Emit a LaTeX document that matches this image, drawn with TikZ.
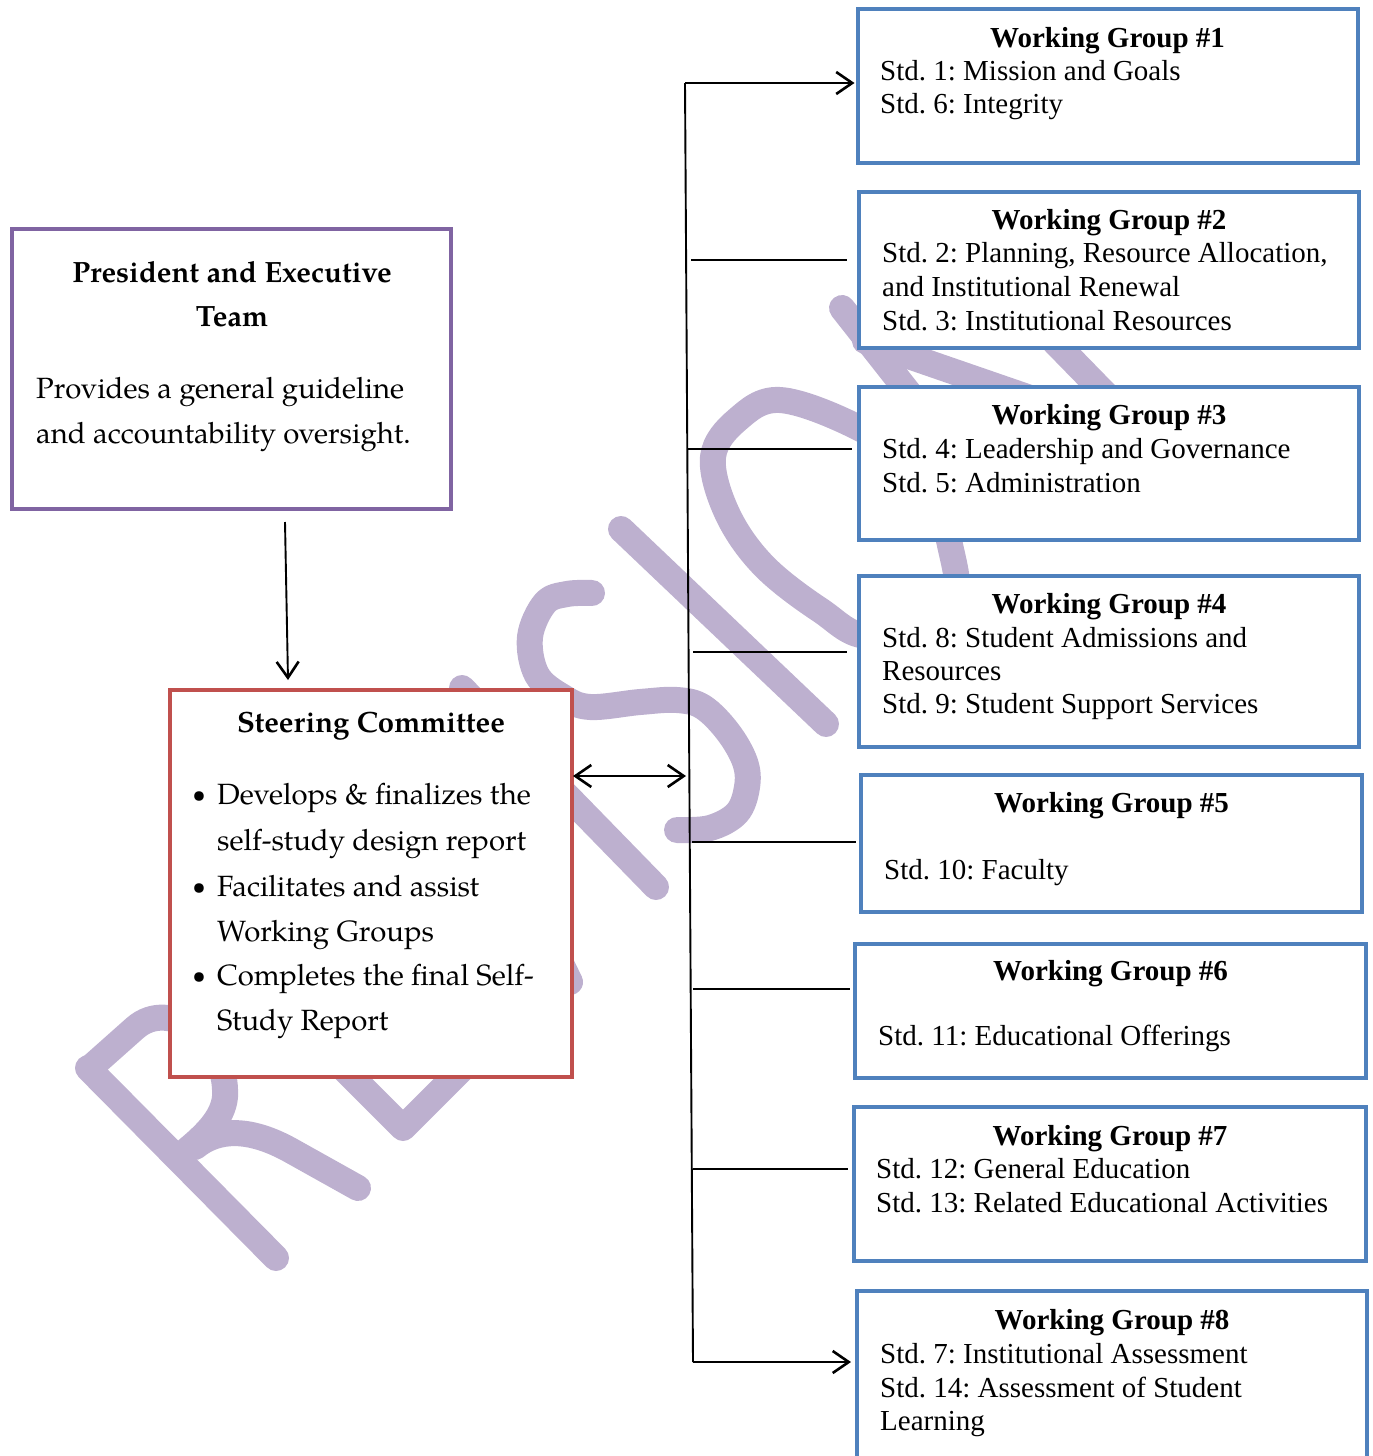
\documentclass[tikz,border=0pt]{standalone}
\usepackage{fontspec}
\setmainfont{Liberation Serif}
\newfontfamily\pala{texgyrepagella}[Extension=.otf, UprightFont=*-regular, BoldFont=*-bold]
\usetikzlibrary{arrows.meta,calc}
\definecolor{wmc}{RGB}{189,176,207}
\definecolor{pur}{RGB}{128,100,162}
\definecolor{redb}{RGB}{192,80,77}
\definecolor{blub}{RGB}{79,129,189}
\frenchspacing
\begin{document}
\begin{tikzpicture}[x=1pt,y=-1pt,
  wm/.style={draw=wmc, line width=26pt, line cap=round, line join=round},
  box/.style={draw, line width=4pt, fill=white, rectangle, inner sep=0pt, outer sep=0pt, anchor=north west},
  conn/.style={draw=black, line width=1.9pt},
  tip/.style={},
  arr/.style={conn, -{Straight Barb[length=16pt,width=22pt,line width=2.6pt]}},
  darr/.style={conn, {Straight Barb[length=16pt,width=22pt,line width=2.6pt]}-{Straight Barb[length=16pt,width=22pt,line width=2.6pt]}},
  tms/.style={font=\frenchspacing\fontsize{29}{34}\selectfont, inner sep=0pt, anchor=base west},
  tmsb/.style={font=\frenchspacing\fontsize{29}{34}\selectfont\bfseries, inner sep=0pt, anchor=base},
  pal/.style={font=\frenchspacing\pala\fontsize{29.3}{34}\selectfont, inner sep=0pt, anchor=base west},
  palb/.style={font=\frenchspacing\pala\bfseries\fontsize{29.3}{34}\selectfont, inner sep=0pt, anchor=base},
  bul/.style={font=\pala\fontsize{24}{34}\selectfont, inner sep=0pt, anchor=base}
]
\useasboundingbox (0,0) rectangle (1373,1456);
% ---------- watermark ----------
\draw[wm] (88,1068) -- (276,1258);
\draw[wm] (90,1068) -- (135,1028) .. controls (170,997) and (228,1040) .. (225,1097) .. controls (223,1118) and (205,1135) .. (187,1150);
\draw[wm] (195,1147) .. controls (218,1128) and (250,1128) .. (290,1150) -- (358,1188);
\draw[wm] (330,1055) -- (403,1128) -- (482,1049);
\draw[wm] (300,860) -- (570,982) -- (445,725);
\draw[wm] (462,688) -- (656,887);
\draw[wm] plot[smooth, tension=0.6] coordinates {(592,593) (567,594) (545,603) (530,637) (537,675) (563,697) (590,707) (640,702) (677,700) (703,707) (728,732) (745,762) (747,787) (737,813) (710,828) (677,830)};
\draw[wm] (621,529) -- (826,724);
\draw[wm] plot[smooth cycle, tension=0.6] coordinates {(857,427) (780,400) (737,420) (713,457) (727,513) (763,565) (820,610) (870,636) (950,610) (950,545) (920,470)};
\draw[wm] (842,308) -- (1005,515);
\draw[wm] (865,341) -- (1120,429);
\draw[wm] (1000,286) -- (1160,450);
% ---------- boxes ----------
\node[box, draw=pur, minimum width=439pt, minimum height=280pt] (pet) at (12,229) {};
\node[box, draw=redb, minimum width=402pt, minimum height=387pt] (sc) at (170,690) {};
\node[box, draw=blub, minimum width=500pt, minimum height=154.5pt] (wg1) at (857.5,8.5) {};
\node[box, draw=blub, minimum width=500pt, minimum height=156pt] (wg2) at (859,192) {};
\node[box, draw=blub, minimum width=500pt, minimum height=153pt] (wg3) at (859,387) {};
\node[box, draw=blub, minimum width=500pt, minimum height=171pt] (wg4) at (859,576) {};
\node[box, draw=blub, minimum width=501pt, minimum height=137pt] (wg5) at (861,775) {};
\node[box, draw=blub, minimum width=511pt, minimum height=134pt] (wg6) at (855,944) {};
\node[box, draw=blub, minimum width=512pt, minimum height=154pt] (wg7) at (854,1107) {};
\node[box, draw=blub, minimum width=510pt, minimum height=190pt] (wg8) at (857,1291) {};
% ---------- connectors ----------
\coordinate (bt) at (685,83);
\coordinate (bb) at (693,1362);
\coordinate (j2) at (691,260);
\coordinate (j3) at (687,449);
\coordinate (j4) at (693,652);
\coordinate (jd) at (686,776);
\coordinate (j5) at (692,842);
\coordinate (j6) at (693,989);
\coordinate (j7) at (693,1169);
\coordinate (pa) at (285,522);
\coordinate (pb) at (288,680);
\draw[conn] (bt) -- (bb);
\draw[arr, shorten >=3pt] (bt) -- (bt -| wg1.west);
\draw[conn, shorten >=12pt] (j2) -- (j2 -| wg2.west);
\draw[conn, shorten >=7pt] (j3) -- (j3 -| wg3.west);
\draw[conn, shorten >=12pt] (j4) -- (j4 -| wg4.west);
\draw[conn, shorten >=5pt] (j5) -- (j5 -| wg5.west);
\draw[conn, shorten >=5pt] (j6) -- (j6 -| wg6.west);
\draw[conn, shorten >=6pt] (j7) -- (j7 -| wg7.west);
\draw[arr, shorten >=6pt] (bb) -- (bb -| wg8.west);
\draw[darr, shorten <=1pt] (jd -| sc.east) -- (jd);
\draw[arr] (pa) -- (pb);
% ---------- text: President ----------
\node[palb] (pt1) at (232,282) {President and Executive};
\node[palb] (pt2) at (232,326) {Team};
\node[pal] (pt3) at (36,398) {Provides a general guideline};
\node[pal] (pt4) at (36,443) {and accountability oversight.};
% ---------- text: Steering ----------
\node[palb] (st0) at (371,732) {Steering Committee};
\node[bul] (sb1) at (199,802) {•};
\node[bul] (sb2) at (199,894) {•};
\node[bul] (sb3) at (199,983) {•};
\node[pal] (st1) at (217,804) {Develops \& finalizes the};
\node[pal] (st2) at (217,850) {self-study design report};
\node[pal] (st3) at (217,896) {Facilitates and assist};
\node[pal] (st4) at (217,941) {Working Groups};
\node[pal] (st5) at (217,985) {Completes the final Self-};
\node[pal] (st6) at (217,1030) {Study Report};
% ---------- text: working groups ----------
\node[tmsb] (w1t) at (wg1.center |- 0,47) {Working Group \#1};
\node[tms] (w1a) at (880,80) {Std. 1: Mission and Goals};
\node[tms] (w1b) at (880,113) {Std. 6: Integrity};
\node[tmsb] (w2t) at (wg2.center |- 0,229) {Working Group \#2};
\node[tms] (w2a) at (882,262) {Std. 2: Planning, Resource Allocation,};
\node[tms] (w2b) at (882,296) {and Institutional Renewal};
\node[tms] (w2c) at (882,330) {Std. 3: Institutional Resources};
\node[tmsb] (w3t) at (wg3.center |- 0,424) {Working Group \#3};
\node[tms] (w3a) at (882,458) {Std. 4: Leadership and Governance};
\node[tms] (w3b) at (882,492) {Std. 5: Administration};
\node[tmsb] (w4t) at (wg4.center |- 0,613) {Working Group \#4};
\node[tms] (w4a) at (882,647) {Std. 8: Student Admissions and};
\node[tms] (w4b) at (882,680) {Resources};
\node[tms] (w4c) at (882,713) {Std. 9: Student Support Services};
\node[tmsb] (w5t) at (wg5.center |- 0,812) {Working Group \#5};
\node[tms] (w5a) at (884,879) {Std. 10: Faculty};
\node[tmsb] (w6t) at (wg6.center |- 0,980) {Working Group \#6};
\node[tms] (w6a) at (878,1045) {Std. 11: Educational Offerings};
\node[tmsb] (w7t) at (wg7.center |- 0,1145) {Working Group \#7};
\node[tms] (w7a) at (876,1178) {Std. 12: General Education};
\node[tms] (w7b) at (876,1212) {Std. 13: Related Educational Activities};
\node[tmsb] (w8t) at (wg8.center |- 0,1329) {Working Group \#8};
\node[tms] (w8a) at (880,1363) {Std. 7: Institutional Assessment};
\node[tms] (w8b) at (880,1397) {Std. 14: Assessment of Student};
\node[tms] (w8c) at (880,1430) {Learning};
\end{tikzpicture}
\end{document}
